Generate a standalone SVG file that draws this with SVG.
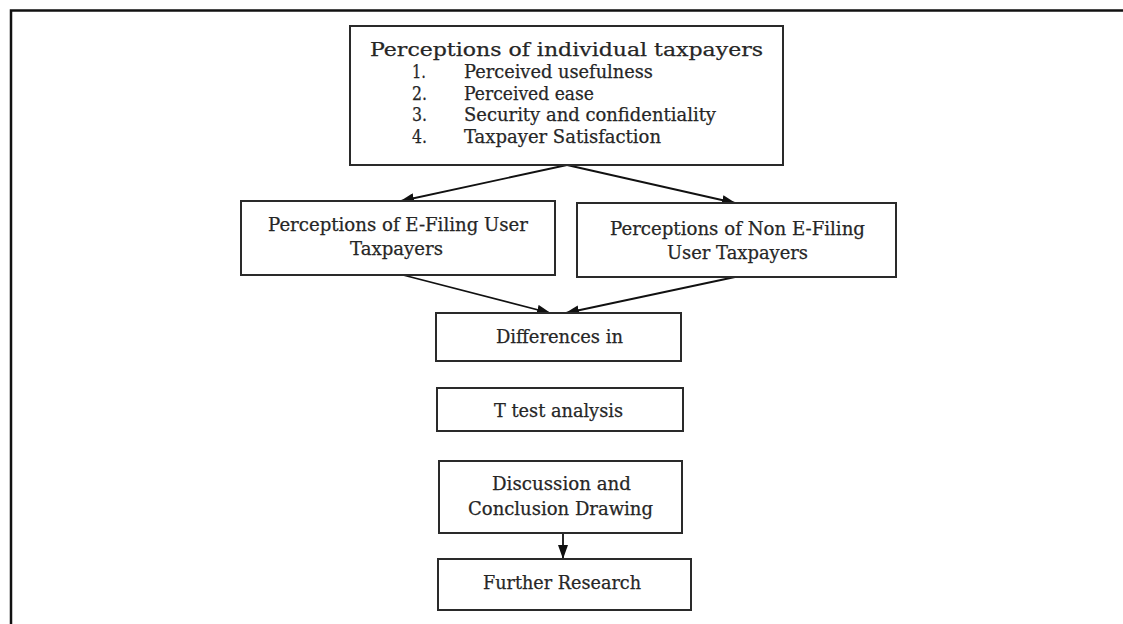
<svg xmlns="http://www.w3.org/2000/svg" width="1123" height="624" viewBox="0 0 1123 624">
<style>
.box{fill:#fff;stroke:#2a2a2a;stroke-width:2}
.t{font-family:"DejaVu Serif","Liberation Serif",serif;font-size:18px;fill:#262626;stroke:#262626;stroke-width:0.25}
.c{stroke:#111;stroke-width:1.8;fill:none}
</style>
<defs>
<marker id="ah" markerUnits="userSpaceOnUse" markerWidth="14" markerHeight="10" refX="13" refY="5" orient="auto">
<path d="M0,0 L14,5 L0,10 Z" fill="#111"/>
</marker>
</defs>
<rect x="11" y="10.5" width="1200" height="700" fill="#fff" stroke="#111" stroke-width="2.5"/>
<g id="connectors">
<line class="c" x1="567" y1="165" x2="401" y2="201" marker-end="url(#ah)"/>
<line class="c" x1="567" y1="165" x2="735" y2="203" marker-end="url(#ah)"/>
<line class="c" x1="403" y1="275" x2="550" y2="313" marker-end="url(#ah)"/>
<line class="c" x1="735" y1="277" x2="566" y2="313" marker-end="url(#ah)"/>
<line class="c" x1="563" y1="533" x2="563" y2="558" marker-end="url(#ah)"/>
</g>
<g id="n-top">
<rect class="box" x="350" y="26" width="433" height="139"/>
<text class="t" x="370" y="56" textLength="393" lengthAdjust="spacingAndGlyphs">Perceptions of individual taxpayers</text>
<text class="t" x="412" y="78" textLength="14" lengthAdjust="spacingAndGlyphs">1.</text>
<text class="t" x="464" y="78" textLength="189" lengthAdjust="spacingAndGlyphs">Perceived usefulness</text>
<text class="t" x="412" y="100" textLength="15" lengthAdjust="spacingAndGlyphs">2.</text>
<text class="t" x="464" y="100" textLength="130" lengthAdjust="spacingAndGlyphs">Perceived ease</text>
<text class="t" x="412" y="121" textLength="15" lengthAdjust="spacingAndGlyphs">3.</text>
<text class="t" x="464" y="121" textLength="252" lengthAdjust="spacingAndGlyphs">Security and confidentiality</text>
<text class="t" x="412" y="143" textLength="15" lengthAdjust="spacingAndGlyphs">4.</text>
<text class="t" x="464" y="143" textLength="197" lengthAdjust="spacingAndGlyphs">Taxpayer Satisfaction</text>
</g>
<g id="n-efiling">
<rect class="box" x="241" y="201" width="314" height="74"/>
<text class="t" x="268" y="231" textLength="260" lengthAdjust="spacingAndGlyphs">Perceptions of E-Filing User</text>
<text class="t" x="350" y="255" textLength="93" lengthAdjust="spacingAndGlyphs">Taxpayers</text>
</g>
<g id="n-nonefiling">
<rect class="box" x="577" y="203" width="319" height="74"/>
<text class="t" x="610" y="235" textLength="255" lengthAdjust="spacingAndGlyphs">Perceptions of Non E-Filing</text>
<text class="t" x="667" y="259" textLength="141" lengthAdjust="spacingAndGlyphs">User Taxpayers</text>
</g>
<g id="n-diff">
<rect class="box" x="436" y="313" width="245" height="48"/>
<text class="t" x="496" y="343" textLength="127" lengthAdjust="spacingAndGlyphs">Differences in</text>
</g>
<g id="n-ttest">
<rect class="box" x="437" y="388" width="246" height="43"/>
<text class="t" x="494" y="417" textLength="129" lengthAdjust="spacingAndGlyphs">T test analysis</text>
</g>
<g id="n-discussion">
<rect class="box" x="439" y="461" width="243" height="72"/>
<text class="t" x="492" y="490" textLength="139" lengthAdjust="spacingAndGlyphs">Discussion and</text>
<text class="t" x="468" y="515" textLength="185" lengthAdjust="spacingAndGlyphs">Conclusion Drawing</text>
</g>
<g id="n-further">
<rect class="box" x="438" y="559" width="253" height="51"/>
<text class="t" x="483" y="589" textLength="158" lengthAdjust="spacingAndGlyphs">Further Research</text>
</g>
</svg>
